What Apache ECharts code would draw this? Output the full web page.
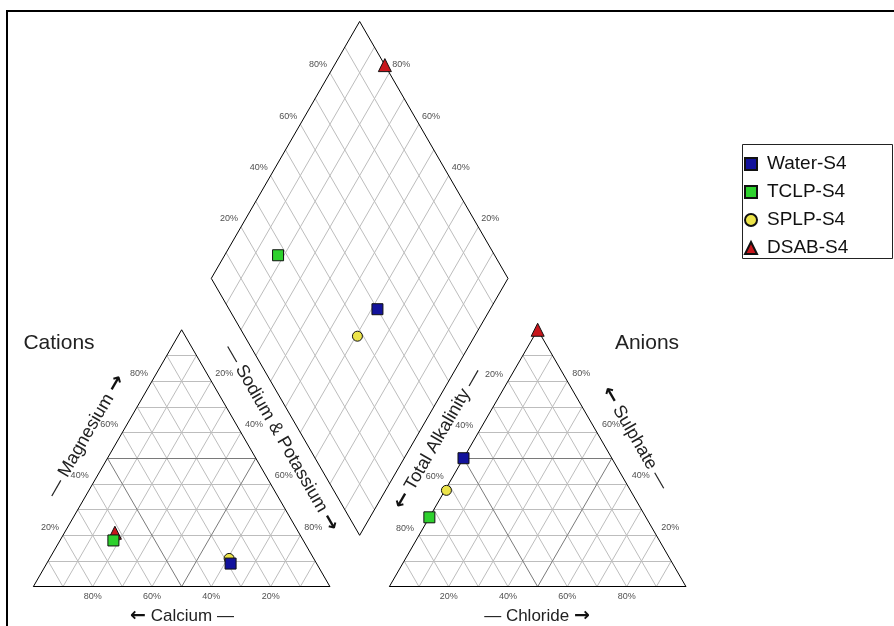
<!DOCTYPE html>
<html>
<head>
<meta charset="utf-8">
<title>Piper diagram – S4 samples</title>
<script src="https://cdn.jsdelivr.net/npm/echarts@6/dist/echarts.min.js"></script>
<style>
  html, body { margin: 0; padding: 0; background: #fff; }
  #chart { width: 894px; height: 626px; }
</style>
</head>
<body>
<div id="chart"></div>
<script>
// Sample names and their ionic composition (% of meq)
const samples = ['Water-S4', 'TCLP-S4', 'SPLP-S4', 'DSAB-S4'];
const calcium = [29, 64, 28.5, 62];
const magnesium = [9, 18, 11, 21];
const sodiumPotassium = [62, 18, 60.5, 17];
const alkalinity = [50, 73, 62, 0];
const sulphate = [50, 27, 37.5, 100];
const chloride = [0, 0, 0.5, 0];

// Percent values printed along the triangle and diamond edges
const tickValues = [20, 40, 60, 80];
const tickText = ['20%', '40%', '60%', '80%'];
// grid spacing of the ternary net
const gridStep = [10, 20, 30, 40, 50, 60, 70, 80, 90];

const sampleColors = ['#12129c', '#2ed12e', '#ece44a', '#c8161c'];
const sampleSymbols = ['rect', 'rect', 'circle', 'triangle'];
const sampleSizes = [11, 11, 10, 13];
const sampleZ = [6, 5, 3, 4];

// ---- ternary geometry (triangle side = 100 units, gap = 20 units) ----
const H = Math.sqrt(3) / 2;
const GAP = 20;
const AX = 100 + GAP; // left corner of the anion triangle

function cationXY(ca, mg, na) {
  const t = ca + mg + na;
  mg = mg / t * 100; na = na / t * 100;
  return [na + mg / 2, mg * H];
}
function anionXY(hco3, so4, cl) {
  const t = hco3 + so4 + cl;
  so4 = so4 / t * 100; cl = cl / t * 100;
  return [AX + cl + so4 / 2, so4 * H];
}
// n = Na+K fraction of cations, c = Cl+SO4 fraction of anions
function diamondXY(n, c) {
  return [110 + 50 * (c - (1 - n)), H * (GAP + 100 * ((1 - n) + c))];
}

// grid line segments
function seg(a, b) { return { coords: [a, b] }; }
const lightLines = [], darkLines = [], edgeLines = [];
function triangleNet(ox) {
  gridStep.forEach(function (v) {
    const list = v === 50 ? darkLines : lightLines;
    list.push(seg([ox + v / 2, v * H], [ox + 100 - v / 2, v * H]));
    list.push(seg([ox + 100 - v, 0], [ox + (100 - v) / 2, (100 - v) * H]));
    list.push(seg([ox + v, 0], [ox + v + (100 - v) / 2, (100 - v) * H]));
  });
  edgeLines.push(seg([ox, 0], [ox + 100, 0]));
  edgeLines.push(seg([ox, 0], [ox + 50, 100 * H]));
  edgeLines.push(seg([ox + 100, 0], [ox + 50, 100 * H]));
}
triangleNet(0);
triangleNet(AX);
gridStep.forEach(function (v) {
  const f = v / 100;
  lightLines.push(seg(diamondXY(f, 0), diamondXY(f, 1)));
  lightLines.push(seg(diamondXY(0, f), diamondXY(1, f)));
});
const dB = diamondXY(1, 0), dL = diamondXY(0, 0), dT = diamondXY(0, 1), dR = diamondXY(1, 1);
edgeLines.push(seg(dB, dL), seg(dL, dT), seg(dT, dR), seg(dR, dB));

// tick labels
const tickData = [];
function tick(pt, text, align, off) {
  tickData.push({ value: pt, label: { formatter: text, align: align, offset: off } });
}
tickValues.forEach(function (v, i) {
  const t = tickText[i];
  tick([100 - v, 0], t, 'center', [0, 10]);                         // calcium
  tick([v / 2, v * H], t, 'right', [-4, -8]);                         // magnesium
  tick([50 + v / 2, (100 - v) * H], t, 'left', [4, -8]);              // sodium & potassium
  tick([AX + v, 0], t, 'center', [0, 10]);                            // chloride
  tick([AX + (100 - v) / 2, (100 - v) * H], t, 'right', [-5, -7]);    // total alkalinity
  tick([AX + (100 - v) + v / 2, v * H], t, 'left', [5, -8]);          // sulphate
  tick(diamondXY(0, v / 100), t, 'right', [-3, -8]);                  // Cl + SO4
  tick(diamondXY(1 - v / 100, 1), t, 'left', [3, -8]);                // Ca + Mg
});

// sample points in all three fields
const sampleSeries = samples.map(function (name, i) {
  const nk = sodiumPotassium[i] / (calcium[i] + magnesium[i] + sodiumPotassium[i]);
  const cs = (chloride[i] + sulphate[i]) / (alkalinity[i] + sulphate[i] + chloride[i]);
  return {
    name: name,
    type: 'scatter',
    symbol: sampleSymbols[i],
    symbolSize: sampleSizes[i],
    z: sampleZ[i],
    clip: false,
    itemStyle: { color: sampleColors[i], borderColor: '#111', borderWidth: 1, opacity: 1 },
    data: [
      cationXY(calcium[i], magnesium[i], sodiumPotassium[i]),
      anionXY(alkalinity[i], sulphate[i], chloride[i]),
      diamondXY(nk, cs)
    ]
  };
});

const X0 = 33.3, Y0 = 586.7, XMAX = 220, YMAX = 195;
const SCALE = (686 - X0) / XMAX;
const FONT = 'Arial, "Liberation Sans", "DejaVu Sans", sans-serif';

// axis caption with arrow glyphs drawn in a font that has solid arrows
function titleText(text, x, y, rot, size) {
  return {
    type: 'text', x: x, y: y, rotation: rot, z: 100,
    style: {
      text: text, fill: '#222', fontSize: size, fontFamily: FONT,
      align: 'center', verticalAlign: 'middle',
      rich: {
        ar: { fontFamily: '"DejaVu Sans", sans-serif', fontSize: size + 2, fill: '#111',
              fontWeight: 'bold' }
      }
    }
  };
}
const L = '{ar|\u2190}', R = '{ar|\u2192}', D = '\u2014';

const chart = echarts.init(document.getElementById('chart'), null, { renderer: 'canvas' });
chart.setOption({
  animation: false,
  backgroundColor: '#fff',
  grid: {
    left: X0, top: Y0 - YMAX * SCALE,
    width: XMAX * SCALE, height: YMAX * SCALE
  },
  xAxis: { type: 'value', min: 0, max: XMAX, show: false },
  yAxis: { type: 'value', min: 0, max: YMAX, show: false },
  legend: {
    data: samples,
    orient: 'vertical',
    left: 739, top: 149,
    itemWidth: 12, itemHeight: 12,
    itemGap: 8,
    textStyle: { fontSize: 19, fontFamily: FONT, color: '#111', lineHeight: 20, padding: [0, 0, 0, 5] },
    selectedMode: false
  },
  graphic: [
    { type: 'rect', shape: { x: 7, y: 11, width: 1000, height: 1000 },
      style: { fill: 'none', stroke: '#000', lineWidth: 2 }, z: 100 },
    { type: 'rect', shape: { x: 742.5, y: 144.5, width: 150, height: 114 },
      style: { fill: 'none', stroke: '#222', lineWidth: 1 }, z: 100 },
    titleText('Cations', 59, 343, 0, 21),
    titleText('Anions', 647, 343, 0, 21),
    titleText(L + ' Calcium ' + D, 182, 616, 0, 17),
    titleText(D + ' Chloride ' + R, 537, 616, 0, 17),
    titleText(D + ' Magnesium ' + R, 86, 436, Math.PI / 3, 18),
    titleText(D + ' Sodium & Potassium ' + R, 281, 438, -Math.PI / 3, 18),
    titleText(L + ' Total Alkalinity ' + D, 438, 439, Math.PI / 3, 18),
    titleText(L + ' Sulphate ' + D, 635, 438, -Math.PI / 3, 18)
  ],
  series: [
    { type: 'lines', coordinateSystem: 'cartesian2d', silent: true, z: 1,
      lineStyle: { color: '#bdbdbd', width: 1, opacity: 1 }, data: lightLines },
    { type: 'lines', coordinateSystem: 'cartesian2d', silent: true, z: 1,
      lineStyle: { color: '#7a7a7a', width: 1, opacity: 1 }, data: darkLines },
    { type: 'lines', coordinateSystem: 'cartesian2d', silent: true, z: 2,
      lineStyle: { color: '#000', width: 1, opacity: 1 }, data: edgeLines },
    { type: 'scatter', silent: true, symbolSize: 0, z: 2, clip: false,
      label: { show: true, position: 'inside', fontSize: 9, fontFamily: FONT, color: '#222',
               verticalAlign: 'middle' },
      data: tickData }
  ].concat(sampleSeries)
});
</script>
</body>
</html>
